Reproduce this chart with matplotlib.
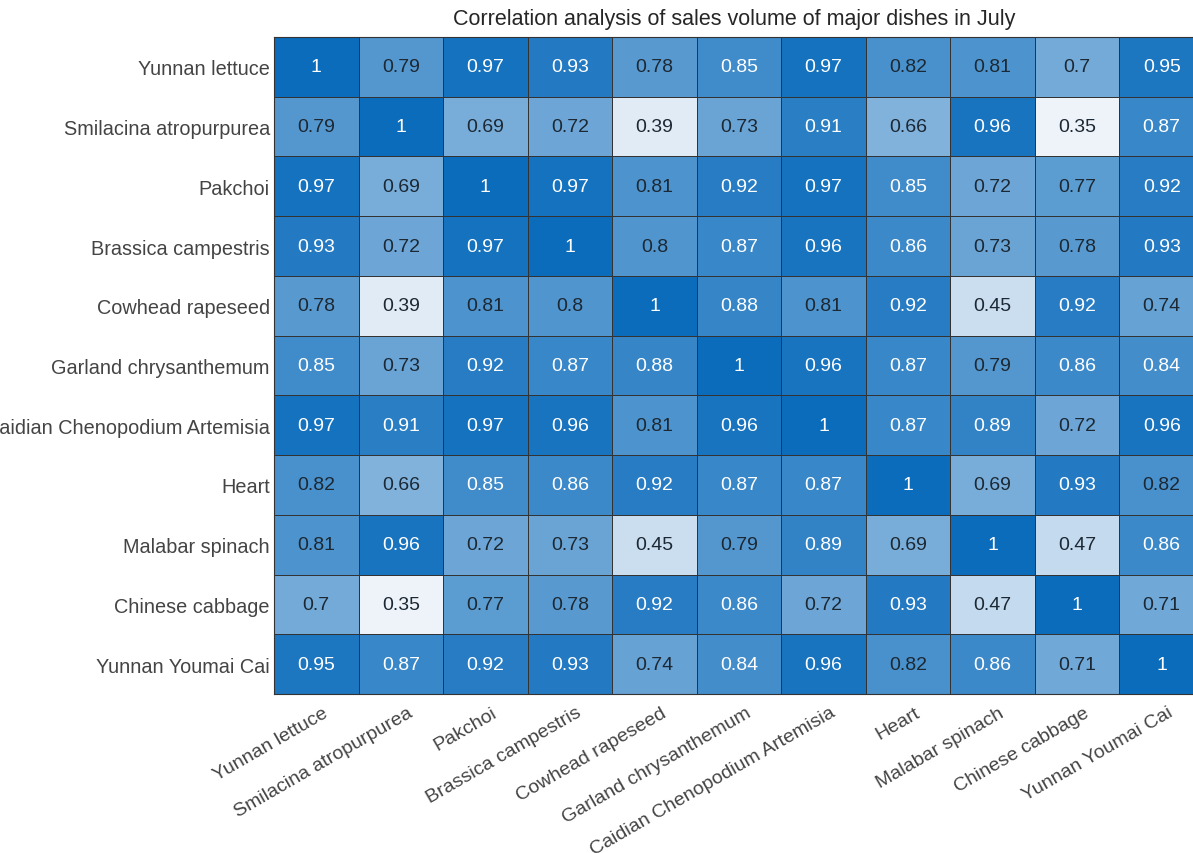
import numpy as np
import matplotlib
matplotlib.use("Agg")
import matplotlib.pyplot as plt
import matplotlib.transforms as mtransforms
from matplotlib.colors import LinearSegmentedColormap

plt.rcParams['font.family'] = ['Liberation Sans', 'DejaVu Sans']

dishes = ["Yunnan lettuce", "Smilacina atropurpurea", "Pakchoi", "Brassica campestris",
          "Cowhead rapeseed", "Garland chrysanthemum", "Caidian Chenopodium Artemisia",
          "Heart", "Malabar spinach", "Chinese cabbage", "Yunnan Youmai Cai"]

corr = np.array([
    [1,    0.79, 0.97, 0.93, 0.78, 0.85, 0.97, 0.82, 0.81, 0.7,  0.95],
    [0.79, 1,    0.69, 0.72, 0.39, 0.73, 0.91, 0.66, 0.96, 0.35, 0.87],
    [0.97, 0.69, 1,    0.97, 0.81, 0.92, 0.97, 0.85, 0.72, 0.77, 0.92],
    [0.93, 0.72, 0.97, 1,    0.8,  0.87, 0.96, 0.86, 0.73, 0.78, 0.93],
    [0.78, 0.39, 0.81, 0.8,  1,    0.88, 0.81, 0.92, 0.45, 0.92, 0.74],
    [0.85, 0.73, 0.92, 0.87, 0.88, 1,    0.96, 0.87, 0.79, 0.86, 0.84],
    [0.97, 0.91, 0.97, 0.96, 0.81, 0.96, 1,    0.87, 0.89, 0.72, 0.96],
    [0.82, 0.66, 0.85, 0.86, 0.92, 0.87, 0.87, 1,    0.69, 0.93, 0.82],
    [0.81, 0.96, 0.72, 0.73, 0.45, 0.79, 0.89, 0.69, 1,    0.47, 0.86],
    [0.7,  0.35, 0.77, 0.78, 0.92, 0.86, 0.72, 0.93, 0.47, 1,    0.71],
    [0.95, 0.87, 0.92, 0.93, 0.74, 0.84, 0.96, 0.82, 0.86, 0.71, 1],
])

title = "Correlation analysis of sales volume of major dishes in July"

cmap = LinearSegmentedColormap.from_list("blues", ["#eef3fa", "#0b6cbb"])

fig = plt.figure(figsize=(11.93, 8.54), dpi=100)
# axes run a bit past the right edge, labels are cut on the left
ax = fig.add_axes([274 / 1193, 1 - 695 / 854, 930 / 1193, 657 / 854])

n = len(dishes)
ax.pcolormesh(np.arange(n + 1), np.arange(n + 1), corr, cmap=cmap,
              vmin=corr.min(), vmax=corr.max(), edgecolors="#333333", linewidth=0.6)
ax.set_xlim(0, n)
ax.set_ylim(n, 0)

for i in range(n):
    for j in range(n):
        v = corr[i, j]
        color = "white" if v >= 0.835 else "#1c2833"
        ax.text(j + 0.5, i + 0.5, f"{v:g}", ha="center", va="center",
                fontsize=14, color=color)

ax.set_xticks(np.arange(n) + 0.5)
ax.set_yticks(np.arange(n) + 0.5)
ax.set_xticklabels(dishes, rotation=30, ha="right", va="top", rotation_mode="anchor",
                   fontsize=14, color="#444444")
ax.set_yticklabels(dishes, fontsize=14.3, color="#444444")
ax.tick_params(axis="x", length=0, pad=7)
ax.tick_params(axis="y", length=0, pad=3)

# nudge the slanted labels a little to the right
shift = mtransforms.ScaledTranslation(6 / 100, 0, fig.dpi_scale_trans)
for lbl in ax.get_xticklabels():
    lbl.set_transform(lbl.get_transform() + shift)

for s in ax.spines.values():
    s.set_color("#333333")
    s.set_linewidth(0.8)

fig.text(734 / 1193, 1 - 20 / 854, title, ha="center", va="center",
         fontsize=15.5, color="#262626")

plt.savefig("out.png", dpi=100)
